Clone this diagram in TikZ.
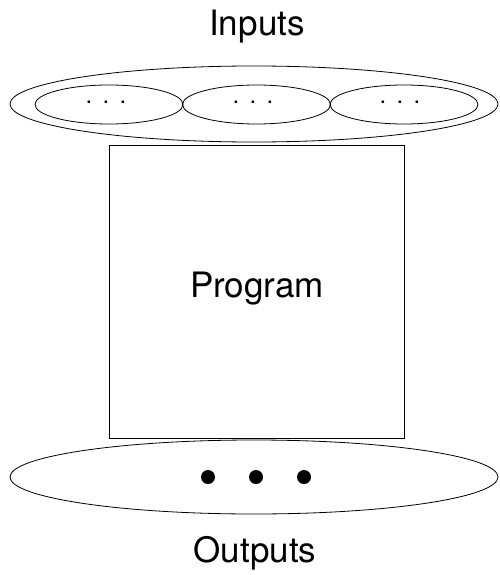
\documentclass[tikz,border=0pt]{standalone}
\usepackage{fontspec}
\setmainfont{TeX Gyre Heros}
\usetikzlibrary{shapes.geometric}
\begin{document}
\begin{tikzpicture}[x=1pt,y=1pt,
  lbl/.style={inner sep=0pt,anchor=base,font=\fontsize{35}{40}\selectfont},
  ell/.style={draw,line width=0.8pt},
  dotsl/.style={inner sep=0pt,font=\fontsize{24}{28}\selectfont}]
\useasboundingbox (0,0) rectangle (500,-575);
\node[lbl] (in) at (257,-36) {Inputs};
\draw[ell] (254,-104) ellipse [x radius=244, y radius=38];
\node[ell,ellipse,minimum width=148pt,minimum height=39pt,inner sep=0pt] (e1) at (109,-104.5) {};
\node[ell,ellipse,minimum width=148pt,minimum height=39pt,inner sep=0pt] (e2) at (256.5,-104.5) {};
\node[ell,ellipse,minimum width=148pt,minimum height=39pt,inner sep=0pt] (e3) at (404,-104.5) {};
\node[dotsl,anchor=base] (d1) at (106,-104) {.\hspace{10.3pt}.\hspace{10.3pt}.};
\node[dotsl,anchor=base] (d2) at (253,-104) {.\hspace{10.3pt}.\hspace{10.3pt}.};
\node[dotsl,anchor=base] (d3) at (400,-104) {.\hspace{10.3pt}.\hspace{10.3pt}.};
\draw[line width=0.8pt] (109,-145) rectangle (404,-438);
\node[lbl] (prog) at (257,-297) {Program};
\draw[ell] (254,-477) ellipse [x radius=244, y radius=37];
\fill (208,-477) circle (7);
\fill (256,-477) circle (7);
\fill (304,-477) circle (7);
\node[lbl] (out) at (255,-562) {Outputs};
\end{tikzpicture}
\end{document}
